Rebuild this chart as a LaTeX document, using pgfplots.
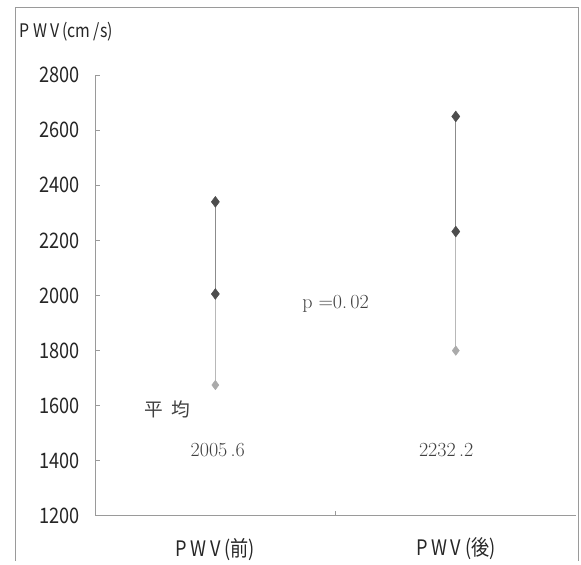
\documentclass[border=0pt]{standalone}
\usepackage{fontspec}
\usepackage{pgfplots}
\pgfplotsset{compat=1.18}
\newfontfamily\jpsans[FakeStretch=0.85]{Noto Sans CJK JP}
\newfontfamily\jpplain{Noto Sans CJK JP}
\definecolor{darkm}{HTML}{4D4D4D}
\definecolor{lightm}{HTML}{AAAAAA}
\definecolor{lineup}{HTML}{8C8C8C}
\definecolor{linelo}{HTML}{B8B8B8}
\definecolor{axgray}{HTML}{9A9A9A}
\begin{document}
\begin{tikzpicture}
\begin{axis}[
  name=ax,
  at={(0pt,0pt)}, anchor=south west,
  scale only axis,
  width=360pt, height=330pt,
  xmin=-0.5, xmax=1.5,
  ymin=1200, ymax=2800,
  axis lines*=left,
  axis line style={axgray, line width=0.6pt},
  tick align=inside,
  major tick length=3.5pt,
  tick style={axgray, line width=0.6pt},
  ytick={1200,1400,...,2800},
  xtick={0.5},
  xticklabels={},
  extra x ticks={0,1},
  extra x tick labels={P\,W\,V (前), P\,W\,V (後)},
  extra x tick style={major tick length=0pt, xticklabel style={yshift=-13pt}},
  /pgf/number format/1000 sep={},
  /pgf/number format/assume math mode=true,
  ticklabel style={font=\jpsans\fontsize{16}{16}\selectfont, text=black!85},
  yticklabel style={xshift=-8pt},
  clip=false,
]
% before
\addplot[lineup, line width=1pt] coordinates {(0,2340) (0,2005.6)};
\addplot[linelo, line width=1pt] coordinates {(0,2005.6) (0,1675)};
% after
\addplot[lineup, line width=1pt] coordinates {(1,2650) (1,2232.2)};
\addplot[linelo, line width=1pt] coordinates {(1,2232.2) (1,1800)};
% marks
\addplot[only marks, mark=diamond*, mark size=4pt, draw=darkm, fill=darkm] coordinates {(0,2340) (0,2005.6) (1,2650) (1,2232.2)};
\addplot[only marks, mark=diamond*, mark size=3.5pt, draw=lightm, fill=lightm] coordinates {(0,1675) (1,1800)};
% annotations
\node[font=\jpplain\fontsize{14}{14}\selectfont, text=black!75] at (axis cs:-0.2,1585) {平\ \ 均};
\node[font=\fontsize{15}{15}\selectfont, text=black!75] at (axis cs:0.01,1440) {2005\,.6};
\node[font=\fontsize{15}{15}\selectfont, text=black!75] at (axis cs:0.96,1440) {2232\,.2};
\node[font=\fontsize{15}{15}\selectfont, text=black!75] at (axis cs:0.5,1970) {p\ =0.\,02};
\end{axis}
% frame and title
\draw[axgray, line width=0.7pt] (-60pt,-33.75pt) -- (-60pt,381pt) -- (361.5pt,381pt) -- (361.5pt,-33.75pt);
\node[anchor=west, font=\jpsans\fontsize{14}{14}\selectfont, text=black!85, inner sep=0pt] at (-56.5pt,362.5pt) {P\,W\,V\,(cm\,/s)};
\path[use as bounding box] (-71.25pt,-33.75pt) rectangle (363.75pt,386.25pt);
\end{tikzpicture}
\end{document}
